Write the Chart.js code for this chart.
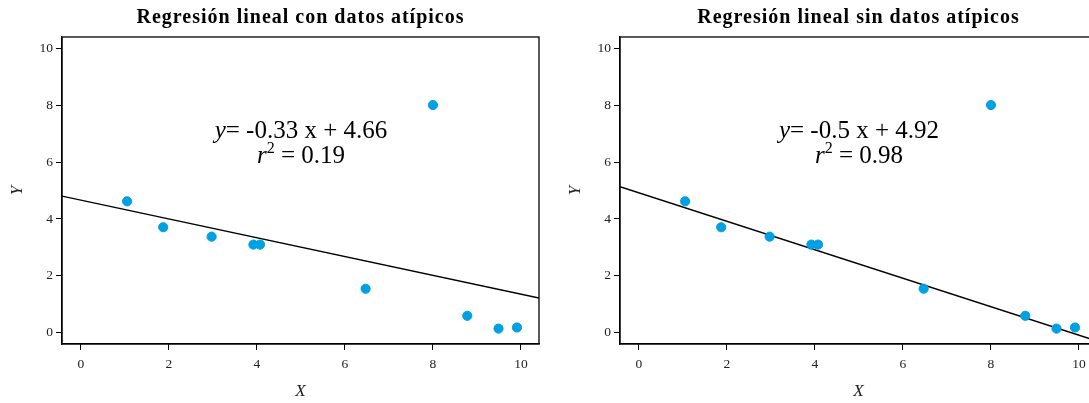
<!DOCTYPE html>
<html>
<head>
<meta charset="utf-8">
<script src="https://cdn.jsdelivr.net/npm/chart.js@4/dist/chart.umd.min.js"></script>
<style>
  html, body { margin: 0; padding: 0; background: #fff; }
  #page { position: relative; width: 1089px; height: 403px; overflow: hidden; }
  .panel { position: absolute; top: 0; width: 545px; height: 403px; }
  #p1 { left: 0; }
  #p2 { left: 558px; }
</style>
</head>
<body>
<div id="page">
  <div class="panel" id="p1"><canvas id="c1" width="545" height="403"></canvas></div>
  <div class="panel" id="p2"><canvas id="c2" width="545" height="403"></canvas></div>
</div>
<script>
// ── Data ────────────────────────────────────────────────
const xValues = [1.05, 1.87, 2.97, 3.92, 4.07, 6.47, 8.00, 8.78, 9.49, 9.91];
const yValues = [4.62, 3.71, 3.38, 3.10, 3.10, 1.55, 8.00, 0.60, 0.15, 0.19];
const xTicks = [0, 2, 4, 6, 8, 10];
const yTicks = [0, 2, 4, 6, 8, 10];

const titles      = ["Regresión lineal con datos atípicos", "Regresión lineal sin datos atípicos"];
const slopes      = [-0.33, -0.5];
const intercepts  = [4.66, 4.92];
const slopeLabels = ["-0.33", "-0.5"];
const interceptLabels = ["4.66", "4.92"];
const r2Labels    = ["0.19", "0.98"];

// ── Style ───────────────────────────────────────────────
const SERIF = "'Liberation Serif', 'DejaVu Serif', serif";
const X_MIN = -0.43, X_MAX = 10.41;
const Y_MIN = -0.39, Y_MAX = 10.39;
const DOT = "#00a0e3";

// frame, title and equation text
const overlay = {
  id: "overlay",
  afterDraw(chart, args, opts) {
    const { ctx, chartArea: a, scales } = chart;
    ctx.save();
    ctx.strokeStyle = "#000";
    ctx.lineWidth = 1.3;
    ctx.strokeRect(a.left, a.top, a.right - a.left, a.bottom - a.top);

    // title
    ctx.fillStyle = "#000";
    ctx.textAlign = "center";
    ctx.textBaseline = "middle";
    ctx.font = "bold 20px " + SERIF;
    ctx.letterSpacing = "1px";
    ctx.fillText(opts.title, (a.left + a.right) / 2, 18);
    ctx.letterSpacing = "0px";

    // equation
    const cx = scales.x.getPixelForValue(5.0);
    const y1 = scales.y.getPixelForValue(7.09);
    const y2 = scales.y.getPixelForValue(6.2);
    ctx.textBaseline = "middle";
    ctx.textAlign = "left";

    const italic = "italic 25px " + SERIF;
    const normal = "25px " + SERIF;
    const small  = "16px " + SERIF;

    const parts1 = [[italic, "y"], [normal, "= " + opts.slope + " x + " + opts.intercept]];
    drawParts(ctx, parts1, cx, y1);

    const parts2 = [[italic, "r"], [small, "2", -8], [normal, " = " + opts.r2]];
    drawParts(ctx, parts2, cx, y2);
    ctx.restore();
  }
};

function drawParts(ctx, parts, cx, y) {
  let total = 0;
  parts.forEach(p => { ctx.font = p[0]; total += ctx.measureText(p[1]).width; });
  let x = cx - total / 2;
  parts.forEach(p => {
    ctx.font = p[0];
    ctx.fillText(p[1], x, y + (p[2] || 0));
    x += ctx.measureText(p[1]).width;
  });
}

function makeChart(id, i) {
  const ctx = document.getElementById(id).getContext("2d");
  const fit = [X_MIN, X_MAX].map(x => ({ x: x, y: slopes[i] * x + intercepts[i] }));
  return new Chart(ctx, {
    type: "scatter",
    data: {
      datasets: [
        {
          data: fit,
          type: "line",
          borderColor: "#000",
          borderWidth: 1.4,
          pointRadius: 0,
          showLine: true,
          order: 2
        },
        {
          data: xValues.map((x, k) => ({ x: x, y: yValues[k] })),
          backgroundColor: DOT,
          borderColor: DOT,
          pointRadius: 4.6,
          order: 1
        }
      ]
    },
    options: {
      responsive: false,
      animation: false,
      clip: true,
      layout: { padding: { top: 37, right: 6, left: 0, bottom: 0 } },
      plugins: {
        legend: { display: false },
        tooltip: { enabled: false },
        overlay: {
          title: titles[i],
          slope: slopeLabels[i],
          intercept: interceptLabels[i],
          r2: r2Labels[i]
        }
      },
      scales: {
        x: {
          type: "linear",
          min: X_MIN,
          max: X_MAX,
          afterBuildTicks: s => { s.ticks = xTicks.map(v => ({ value: v })); },
          afterFit: s => { s.height = 59; },
          grid: { drawOnChartArea: false, drawTicks: true, tickLength: 6, color: "#000", lineWidth: 1 },
          border: { display: true, color: "#000", width: 1.3 },
          ticks: { color: "#222", padding: 6, font: { family: SERIF, size: 13.5 } },
          title: { display: true, text: "X", color: "#222", padding: { top: 0, bottom: 1 },
                   font: { family: SERIF, size: 17, style: "italic" } }
        },
        y: {
          type: "linear",
          min: Y_MIN,
          max: Y_MAX,
          afterBuildTicks: s => { s.ticks = yTicks.map(v => ({ value: v })); },
          afterFit: s => { s.width = 62; },
          grid: { drawOnChartArea: false, drawTicks: true, tickLength: 6, color: "#000", lineWidth: 1 },
          border: { display: true, color: "#000", width: 1.3 },
          ticks: { color: "#222", padding: 3, font: { family: SERIF, size: 13.5 } },
          title: { display: true, text: "Y", color: "#222", padding: { top: 7, bottom: 0 },
                   font: { family: SERIF, size: 17, style: "italic" } }
        }
      }
    },
    plugins: [overlay]
  });
}

makeChart("c1", 0);
makeChart("c2", 1);
</script>
</body>
</html>
